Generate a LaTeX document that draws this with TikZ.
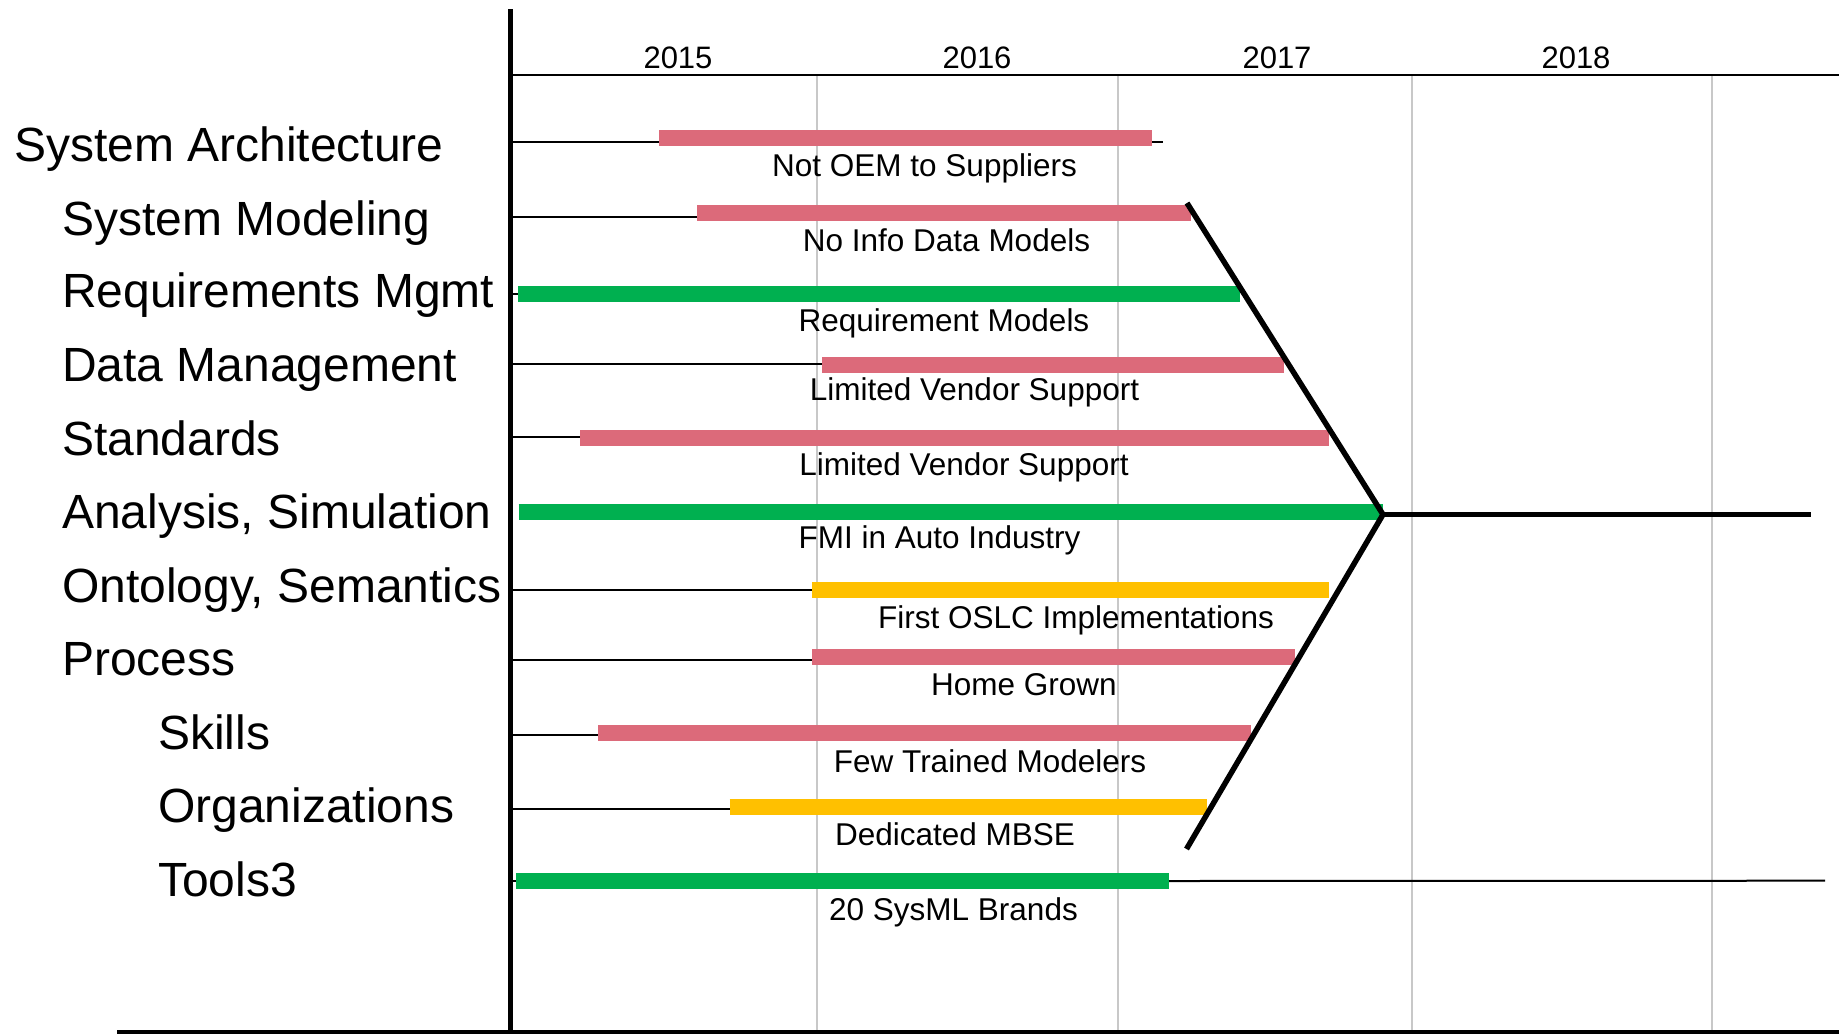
\documentclass[tikz,border=0pt]{standalone}
\usepackage{fontspec}
\setmainfont{Liberation Sans}
\definecolor{barpink}{RGB}{220,106,122}
\definecolor{bargreen}{RGB}{0,176,80}
\definecolor{baryellow}{RGB}{255,192,0}
\definecolor{gridgray}{RGB}{200,200,200}
\begin{document}
\begin{tikzpicture}[x=1pt,y=-1pt,
  rowlabel/.style={anchor=base west,inner sep=0pt,font=\fontsize{48}{58}\selectfont},
  barlabel/.style={anchor=base,inner sep=0pt,font=\fontsize{31.5}{38}\selectfont},
  yearlabel/.style={anchor=base,inner sep=0pt,font=\fontsize{31}{37}\selectfont},
  gridline/.style={gridgray,line width=1.6pt},
  rowline/.style={black,line width=2pt},
  pinkbar/.style={barpink,line width=16pt},
  greenbar/.style={bargreen,line width=16pt},
  yellowbar/.style={baryellow,line width=16pt},
  axisline/.style={black,line width=5.5pt},
  convline/.style={black,line width=5.5pt,line join=miter,line cap=butt}]
\useasboundingbox (0,0) rectangle (1839,1034);

% grid
\foreach \gx in {817,1118,1412,1712}{\draw[gridline] (\gx,75) -- (\gx,1034);}
\coordinate (hdl) at (510,75);
\coordinate (hdr) at (1839,75);
\draw[black,line width=2.5pt] (hdl) -- (hdr);

% years
\node[yearlabel] (y2015) at (678,68.3) {2015};
\node[yearlabel] (y2016) at (977,68.3) {2016};
\node[yearlabel] (y2017) at (1277,68.3) {2017};
\node[yearlabel] (y2018) at (1576,68.3) {2018};

% row thin lines
\draw[rowline] (510,141.5) -- (1163,141.5);
\draw[rowline] (510,217) -- (697,217);
\draw[rowline] (510,294) -- (518,294);
\draw[rowline] (510,364) -- (822,364);
\draw[rowline] (510,436.7) -- (580,436.7);
\draw[rowline] (510,590.3) -- (812,590.3);
\draw[rowline] (510,660) -- (812,660);
\draw[rowline] (510,735) -- (598,735);
\draw[rowline] (510,808.7) -- (729.6,808.7);
\draw[rowline] (510,881) -- (516,881);
\coordinate (t11e) at (1825,880.7);

% bars
\coordinate (b1s) at (659,138);   \coordinate (b1e) at (1152,138);
\coordinate (b2s) at (697,213);   \coordinate (b2e) at (1191,213);
\coordinate (b3s) at (518,294);   \coordinate (b3e) at (1240,294);
\coordinate (b4s) at (822,364.5); \coordinate (b4e) at (1284,364.5);
\coordinate (b5s) at (580,438);   \coordinate (b5e) at (1328.5,438);
\coordinate (b6s) at (518.5,511.5); \coordinate (b6e) at (1383,511.5);
\coordinate (b7s) at (812,590);   \coordinate (b7e) at (1328.5,590);
\coordinate (b8s) at (812,656.7); \coordinate (b8e) at (1294.6,656.7);
\coordinate (b9s) at (598,733);   \coordinate (b9e) at (1251,733);
\coordinate (b10s) at (729.6,807); \coordinate (b10e) at (1206.5,807);
\coordinate (b11s) at (516,881);  \coordinate (b11e) at (1169,881);

\draw[rowline] (b11e) -- (t11e);

\draw[pinkbar] (b1s) -- (b1e);
\draw[pinkbar] (b2s) -- (b2e);
\draw[greenbar] (b3s) -- (b3e);
\draw[pinkbar] (b4s) -- (b4e);
\draw[pinkbar] (b5s) -- (b5e);
\draw[greenbar] (b6s) -- (b6e);
\draw[yellowbar] (b7s) -- (b7e);
\draw[pinkbar] (b8s) -- (b8e);
\draw[pinkbar] (b9s) -- (b9e);
\draw[yellowbar] (b10s) -- (b10e);
\draw[greenbar] (b11s) -- (b11e);

% convergence lines
\coordinate (ctop) at (1187,203);
\coordinate (apex) at (1383,514.5);
\coordinate (cbot) at (1186.5,849);
\coordinate (cend) at (1811,514.5);
\draw[convline] (ctop) -- (apex) -- (cbot);
\draw[convline] (apex) -- (cend);

% axes
\coordinate (vtop) at (510.5,9);
\coordinate (vbot) at (510.5,1034);
\draw[axisline] (vtop) -- (vbot);
\coordinate (hbl) at (117,1032);
\coordinate (hbr) at (1839,1032);
\draw[black,line width=4pt] (hbl) -- (hbr);

% row labels
\node[rowlabel] (r1) at (14,161) {System Architecture};
\node[rowlabel] (r2) at (62,235) {System Modeling};
\node[rowlabel] (r3) at (62,307.5) {Requirements Mgmt};
\node[rowlabel] (r4) at (62,381) {Data Management};
\node[rowlabel] (r5) at (62,455) {Standards};
\node[rowlabel] (r6) at (62,528.5) {Analysis, Simulation};
\node[rowlabel] (r7) at (62,602) {Ontology, Semantics};
\node[rowlabel] (r8) at (62,675.5) {Process};
\node[rowlabel] (r9) at (158,749) {Skills};
\node[rowlabel] (r10) at (158,822.5) {Organizations};
\node[rowlabel] (r11) at (158,896) {Tools3};

% bar labels
\node[barlabel] (l1) at (924.5,176.7) {Not OEM to Suppliers};
\node[barlabel] (l2) at (946.5,251.7) {No Info Data Models};
\node[barlabel] (l3) at (944,331.7) {Requirement Models};
\node[barlabel] (l4) at (974.5,400) {Limited Vendor Support};
\node[barlabel] (l5) at (964,475) {Limited Vendor Support};
\node[barlabel] (l6) at (939.5,548.3) {FMI in Auto Industry};
\node[barlabel] (l7) at (1076,628.3) {First OSLC Implementations};
\node[barlabel] (l8) at (1024,695) {Home Grown};
\node[barlabel] (l9) at (990,772.7) {Few Trained Modelers};
\node[barlabel] (l10) at (955,845) {Dedicated MBSE};
\node[barlabel] (l11) at (953.5,920.7) {20 SysML Brands};
\end{tikzpicture}
\end{document}
